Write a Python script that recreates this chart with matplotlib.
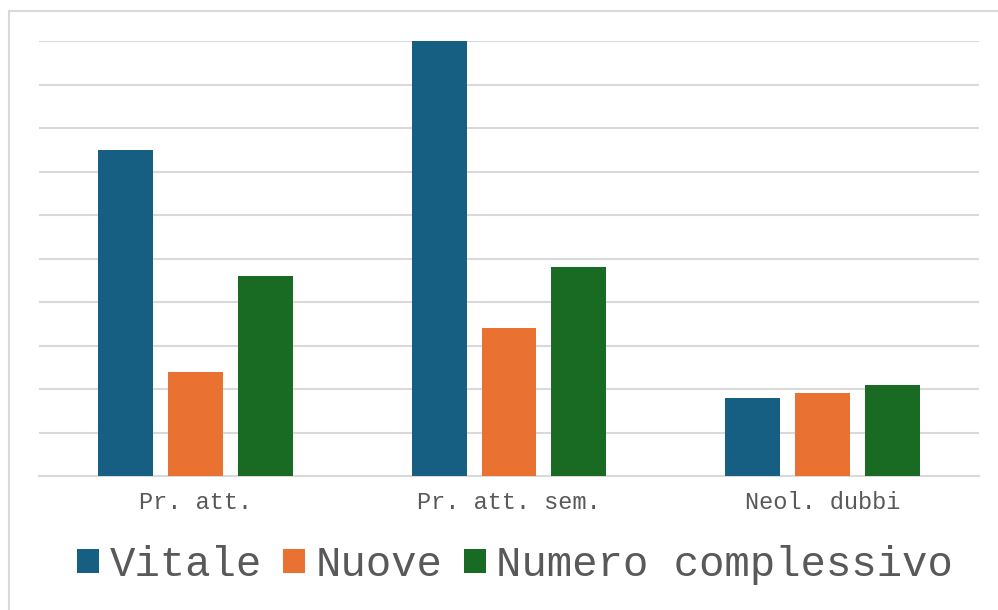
import numpy as np
import matplotlib.pyplot as plt
from matplotlib.patches import Rectangle, Patch

# Dati
categories = ['Pr. att.', 'Pr. att. sem.', 'Neol. dubbi']
series_names = ['Vitale', 'Nuove', 'Numero complessivo']
vitale = [7.5, 10.0, 1.8]
nuove = [2.4, 3.4, 1.9]
numero = [4.6, 4.8, 2.1]

colors = ['#175F82', '#E97132', '#196B24']
text_color = '#595959'
grid_color = '#D9D9D9'

plt.rcParams['font.family'] = ['Liberation Mono', 'DejaVu Sans Mono']

fig = plt.figure(figsize=(9.98, 6.10), dpi=100)
ax = fig.add_axes([39 / 998, 1 - 476 / 610, 940 / 998, 435 / 610])

x = np.arange(len(categories))
width = 0.175
step = 0.223
for i, (vals, col) in enumerate(zip([vitale, nuove, numero], colors)):
    ax.bar(x + (i - 1) * step, vals, width, color=col, zorder=3)

ax.set_xlim(-0.5, 2.5)
ax.set_ylim(0, 10)
ax.set_yticks(np.arange(0, 11, 1))
ax.yaxis.grid(True, color=grid_color, linewidth=1.5, zorder=0)
ax.tick_params(axis='y', left=False, labelleft=False)
ax.tick_params(axis='x', bottom=False, colors=text_color, labelsize=17, pad=7)
ax.set_xticks(x)
ax.set_xticklabels(categories)
for s in ['top', 'right', 'left']:
    ax.spines[s].set_visible(False)
ax.spines['bottom'].set_color(grid_color)
ax.spines['bottom'].set_linewidth(1.5)

# cornice del grafico
fig.patches.append(Rectangle((9 / 998, -0.1), 1.2, 1.1 - 11 / 610,
                             transform=fig.transFigure, fill=False,
                             edgecolor='#D9D9D9', linewidth=1.5))

handles = [Patch(facecolor=c, edgecolor='none') for c in colors]
fig.legend(handles, series_names, loc='center', bbox_to_anchor=(0.516, 1 - 565 / 610),
           ncol=3, frameon=False, fontsize=30.5, labelcolor=text_color,
           handlelength=0.52, handleheight=0.52, handletextpad=0.25,
           columnspacing=0.5)

fig.savefig('out.png', dpi=100)
